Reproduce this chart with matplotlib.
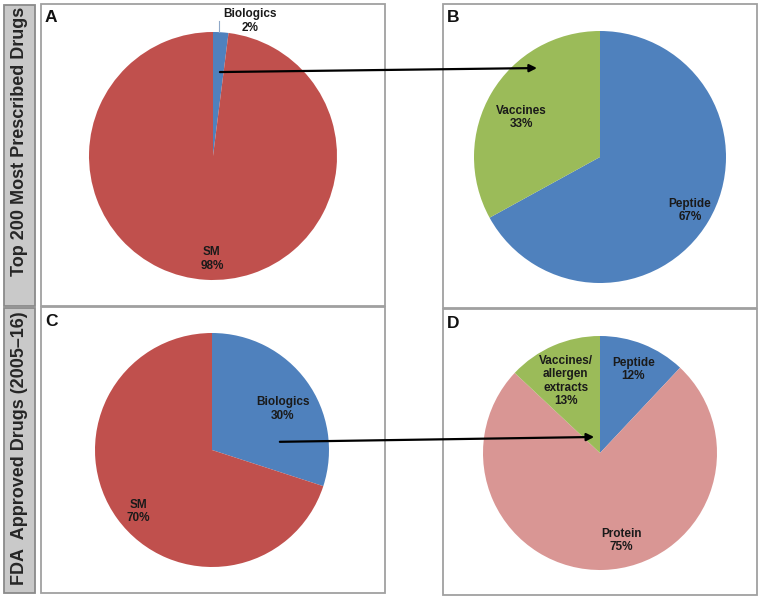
import numpy as np
import matplotlib
matplotlib.use("Agg")
import matplotlib.pyplot as plt
from matplotlib.patches import Rectangle, ConnectionPatch

plt.rcParams['font.family'] = ['Liberation Sans', 'DejaVu Sans']

# ---- data ----
a_labels = ["Biologics", "SM"]
a_values = [2, 98]
b_labels = ["Peptide", "Vaccines"]
b_values = [67, 33]
c_labels = ["Biologics", "SM"]
c_values = [30, 70]
d_labels = ["Peptide", "Protein", "Vaccines/\nallergen\nextracts"]
d_values = [12, 75, 13]
row_titles = ["Top 200 Most Prescribed Drugs", "FDA  Approved Drugs (2005\u201316)"]
panel_letters = ["A", "B", "C", "D"]

RED = "#C0504D"
BLUE = "#4F81BD"
GREEN = "#9BBB59"
PINK = "#D99694"

W, H = 761, 601
fig = plt.figure(figsize=(W / 100, H / 100), dpi=100)
fig.patch.set_facecolor("white")


def fx(px):
    return px / W


def fy(py):
    return 1 - py / H


def box(x0, y0, x1, y1, fc="white", ec="#A0A0A0", lw=1.3):
    r = Rectangle((fx(x0), fy(y1)), fx(x1) - fx(x0), fy(y0) - fy(y1),
                  transform=fig.transFigure, facecolor=fc, edgecolor=ec,
                  linewidth=lw, zorder=-5)
    fig.patches.append(r)


# side title boxes
box(4, 5, 35, 306, fc="#C9C9C9", ec="#8A8A8A")
box(4, 308, 35, 593, fc="#C9C9C9", ec="#8A8A8A")
fig.text(fx(20), fy(141), row_titles[0], rotation=90, ha="center", va="center",
         fontsize=13, fontweight="bold", color="#262626")
fig.text(fx(20), fy(448), row_titles[1], rotation=90, ha="center", va="center",
         fontsize=13, fontweight="bold", color="#262626")

# panel boxes
panels = [(41, 4, 385, 306), (443, 4, 757, 308), (41, 307, 385, 593), (443, 309, 757, 595)]
for (x0, y0, x1, y1), letter in zip(panels, panel_letters):
    box(x0, y0, x1, y1)
    fig.text(fx(x0 + 4), fy(y0 + 14), letter, ha="left", va="center",
             fontsize=12.5, fontweight="bold", color="#111111")


def pie_axes(cx, cy, r):
    s = 1.25 * r
    ax = fig.add_axes([fx(cx - s), fy(cy + s), (2 * s) / W, (2 * s) / H])
    ax.patch.set_visible(False)
    return ax


def draw_pie(ax, values, colors):
    wedges, _ = ax.pie(values, colors=colors, startangle=90, counterclock=False,
                       wedgeprops=dict(linewidth=0))
    ax.set_xlim(-1.25, 1.25)
    ax.set_ylim(-1.25, 1.25)
    ax.set_aspect("equal")
    for w in wedges:
        w.set_clip_on(False)
    return wedges


def label(ax, wedge, text, dist, dang=0.0):
    ang = np.deg2rad((wedge.theta1 + wedge.theta2) / 2 + dang)
    ax.text(dist * np.cos(ang), dist * np.sin(ang), text, ha="center", va="center",
            fontsize=8.5, fontweight="bold", color="#1a1a1a", linespacing=1.15)


# A
axA = pie_axes(213, 156, 124)
wA = draw_pie(axA, a_values, [BLUE, RED])
label(axA, wA[1], f"{a_labels[1]}\n{a_values[1]}%", 0.83, 3)
axA.text(0.30, 1.09, f"{a_labels[0]}\n{a_values[0]}%", ha="center", va="center",
         fontsize=8.5, fontweight="bold", color="#1a1a1a", linespacing=1.15)
axA.plot([0.05, 0.05], [1.0, 1.09], color="#8FA8C8", lw=0.8, clip_on=False)

# B
axB = pie_axes(600, 157, 126)
wB = draw_pie(axB, b_values, [BLUE, GREEN])
label(axB, wB[0], f"{b_labels[0]}\n{b_values[0]}%", 0.83)
label(axB, wB[1], f"{b_labels[1]}\n{b_values[1]}%", 0.70, 4)

# C
axC = pie_axes(212, 450, 117)
wC = draw_pie(axC, c_values, [BLUE, RED])
label(axC, wC[0], f"{c_labels[0]}\n{c_values[0]}%", 0.70, -6)
label(axC, wC[1], f"{c_labels[1]}\n{c_values[1]}%", 0.82, 4)

# D
axD = pie_axes(600, 453, 117)
wD = draw_pie(axD, d_values, [BLUE, PINK, GREEN])
label(axD, wD[0], f"{d_labels[0]}\n{d_values[0]}%", 0.77)
label(axD, wD[1], f"{d_labels[1]}\n{d_values[1]}%", 0.77, 12)
label(axD, wD[2], f"{d_labels[2]}\n{d_values[2]}%", 0.68, 2)

# arrows
for axs, axe, p0, p1 in [(axA, axB, (0.056, 0.677), (-0.50, 0.706)),
                         (axC, axD, (0.58, 0.07), (-0.05, 0.137))]:
    cp = ConnectionPatch(xyA=p0, coordsA=axs.transData, xyB=p1, coordsB=axe.transData,
                         arrowstyle="-|>", mutation_scale=11, color="black", lw=1.6,
                         shrinkA=0, shrinkB=0, zorder=10)
    fig.add_artist(cp)

fig.savefig("out.png", dpi=100)
